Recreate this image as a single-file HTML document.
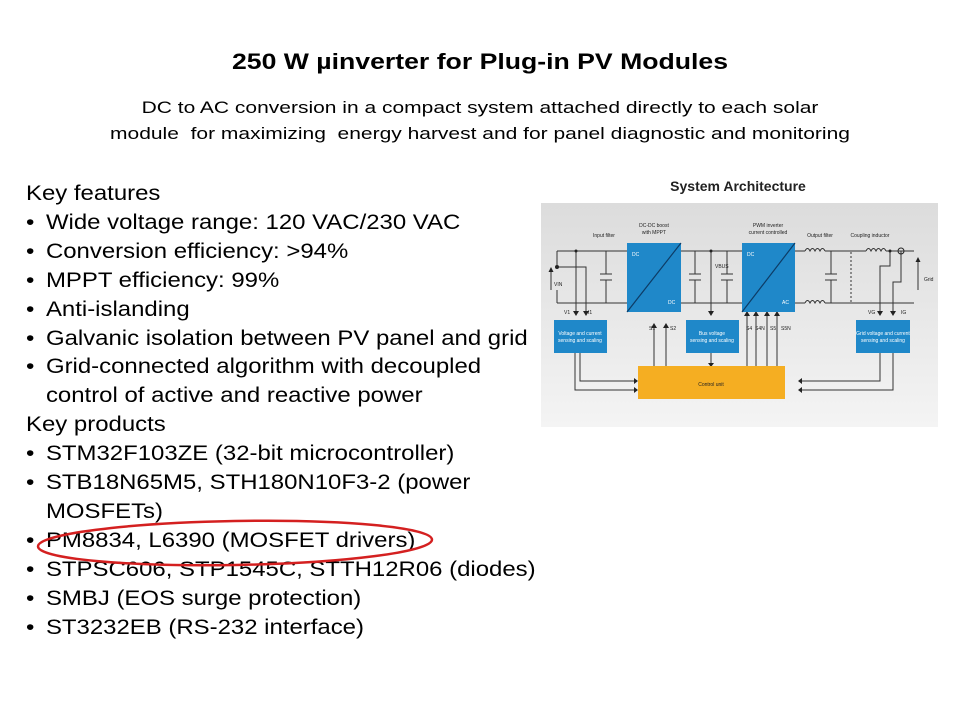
<!DOCTYPE html>
<html><head><meta charset="utf-8"><style>
body{margin:0;width:960px;height:720px;background:#fff;font-family:"Liberation Sans",sans-serif;position:relative;overflow:hidden;color:#000}
.t{position:absolute;left:0;width:960px;text-align:center;white-space:nowrap}
#list{position:absolute;left:26px;top:180px;font-size:21px;line-height:28.9px;white-space:nowrap;transform:scaleX(1.14);transform-origin:0 0}
#list div.b{padding-left:17.5px;position:relative}
#list div.b:before{content:"•";position:absolute;left:0}
#list div.c{padding-left:17.5px}
</style></head><body>
<div class="t" style="top:49px;font-size:22px;font-weight:bold;transform:scaleX(1.21)">250 W µinverter for Plug-in PV Modules</div>
<div class="t" style="top:95px;font-size:17px;line-height:26px;transform:scaleX(1.235)">DC to AC conversion in a compact system attached directly to each solar<br>module&nbsp; for maximizing&nbsp; energy harvest and for panel diagnostic and monitoring</div>
<div id="list">
<div>Key features</div>
<div class="b">Wide voltage range: 120 VAC/230 VAC</div>
<div class="b">Conversion efficiency: &gt;94%</div>
<div class="b">MPPT efficiency: 99%</div>
<div class="b">Anti-islanding</div>
<div class="b">Galvanic isolation between PV panel and grid</div>
<div class="b">Grid-connected algorithm with decoupled</div>
<div class="c">control of active and reactive power</div>
<div>Key products</div>
<div class="b">STM32F103ZE (32-bit microcontroller)</div>
<div class="b">STB18N65M5, STH180N10F3-2 (power</div>
<div class="c">MOSFETs)</div>
<div class="b">PM8834, L6390 (MOSFET drivers)</div>
<div class="b">STPSC606, STP1545C, STTH12R06 (diodes)</div>
<div class="b">SMBJ (EOS surge protection)</div>
<div class="b">ST3232EB (RS-232 interface)</div>
</div>
<svg width="960" height="720" style="position:absolute;left:0;top:0" font-family="Liberation Sans, sans-serif">
<ellipse cx="235" cy="543" rx="197" ry="22" fill="none" stroke="#d42020" stroke-width="2.5" transform="rotate(-1 235 543)"/>
<text x="738" y="191" text-anchor="middle" font-size="14" font-weight="bold" fill="#222">System Architecture</text>
<defs><linearGradient id="g" x1="0" y1="0" x2="0" y2="1"><stop offset="0" stop-color="#dcdcdc"/><stop offset="1" stop-color="#f4f4f4"/></linearGradient>
<marker id="a" markerWidth="5" markerHeight="5" refX="4" refY="2.5" orient="auto"><path d="M0,0L5,2.5L0,5z" fill="#222"/></marker></defs>
<rect x="541" y="203" width="397" height="224" fill="url(#g)"/>
<g stroke="#333" stroke-width="1" fill="none">
<path d="M557,251H627M681,251H742M795,251H805M825,251H866M886,251H914"/>
<path d="M557,303H627M681,303H742M795,303H805M825,303H914"/>
<path d="M557,251V265M557,290V303"/>
<path d="M557,267H586V312M576,251V312"/>
<path d="M606,251V274M606,280V303M600,274H612M600,280H612"/>
<path d="M695,251V274M695,280V303M689,274H701M689,280H701"/>
<path d="M727,251V274M727,280V303M721,274H733M721,280H733"/>
<path d="M831,251V274M831,280V303M825,274H837M825,280H837"/>
<path d="M805,251q2.5,-5 5,0q2.5,-5 5,0q2.5,-5 5,0q2.5,-5 5,0M805,303q2.5,-5 5,0q2.5,-5 5,0q2.5,-5 5,0q2.5,-5 5,0M866,251q2.5,-5 5,0q2.5,-5 5,0q2.5,-5 5,0q2.5,-5 5,0"/>
<path d="M851,252V302" stroke-dasharray="2,2"/>
<path d="M890,251V266H880V312M901,251V282H893V312"/>
<path d="M711,251V312"/>
<path d="M580,353V381H636M575,353V390H636M880,353V381H800M893,353V390H800M711,353V366"/>
<path d="M654,366V327M666,366V327M747,366V315M756,366V315M767,366V315M777,366V315"/>
<path d="M918,290V258" marker-end="url(#a)"/>
<path d="M551,290V268" marker-end="url(#a)"/>
</g>
<g fill="#222"><circle cx="576" cy="251" r="1.5"/><circle cx="711" cy="251" r="1.5"/><circle cx="890" cy="251" r="1.5"/><circle cx="901" cy="251" r="3" fill="none" stroke="#222"/><circle cx="557" cy="267" r="2"/></g>
<g fill="#222"><path d="M573,311h6l-3,5zM583,311h6l-3,5zM708,311h6l-3,5zM877,311h6l-3,5zM890,311h6l-3,5zM708,363h6l-3,4z"/>
<path d="M651,328h6l-3,-5zM663,328h6l-3,-5zM744,316h6l-3,-5zM753,316h6l-3,-5zM764,316h6l-3,-5zM774,316h6l-3,-5z"/>
<path d="M634,378v6l4,-3zM634,387v6l4,-3zM802,378v6l-4,-3zM802,387v6l-4,-3z"/></g>
<g fill="#1f88c9"><rect x="627" y="243" width="54" height="69"/><rect x="742" y="243" width="53" height="69"/>
<rect x="554" y="320" width="53" height="33"/><rect x="686" y="320" width="53" height="33"/><rect x="856" y="320" width="54" height="33"/></g>
<path d="M627,312L681,243M742,312L795,243" stroke="#0d3c66" stroke-width="1.2"/>
<rect x="638" y="366" width="147" height="33" fill="#f5ae22"/>
<g font-size="5" fill="#fff"><text x="632" y="256">DC</text><text x="668" y="304">DC</text><text x="747" y="256">DC</text><text x="782" y="304">AC</text>
<text x="580" y="335" text-anchor="middle">Voltage and current</text><text x="580" y="342" text-anchor="middle">sensing and scaling</text>
<text x="712" y="335" text-anchor="middle">Bus voltage</text><text x="712" y="342" text-anchor="middle">sensing and scaling</text>
<text x="883" y="335" text-anchor="middle">Grid voltage and current</text><text x="883" y="342" text-anchor="middle">sensing and scaling</text></g>
<g font-size="5" fill="#222"><text x="711" y="386" text-anchor="middle">Control unit</text>
<text x="604" y="237" text-anchor="middle">Input filter</text><text x="654" y="227" text-anchor="middle">DC-DC boost</text><text x="654" y="234" text-anchor="middle">with MPPT</text>
<text x="768" y="227" text-anchor="middle">PWM inverter</text><text x="768" y="234" text-anchor="middle">current controlled</text>
<text x="820" y="237" text-anchor="middle">Output filter</text><text x="870" y="237" text-anchor="middle">Coupling inductor</text>
<text x="924" y="281">Grid</text><text x="715" y="268">VBUS</text><text x="554" y="286">VIN</text>
<text x="564" y="314">V1</text><text x="588" y="314">I1</text><text x="868" y="314">VG</text><text x="901" y="314">IG</text>
<text x="649" y="330">S1</text><text x="670" y="330">S2</text><text x="746" y="330">S4</text><text x="755" y="330">S4N</text><text x="770" y="330">S5</text><text x="781" y="330">S5N</text></g>
</svg>
</body></html>
